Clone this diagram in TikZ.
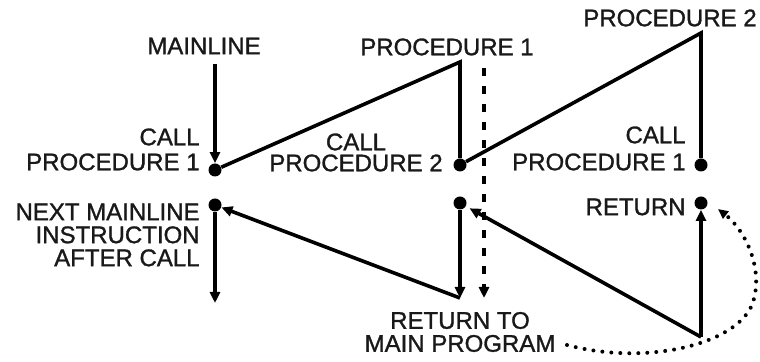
\documentclass[tikz,border=0pt]{standalone}
\usepackage{fontspec}
\setmainfont{Liberation Sans}
\newfontface\lblfont{Liberation Sans}[FakeBold=1.2]
\usetikzlibrary{arrows.meta}
\begin{document}
\begin{tikzpicture}[x=0.5pt,y=-0.5pt,
  lbl/.style={font=\lblfont\fontsize{12}{11.5}\selectfont, inner sep=0pt, text=black!90},
  dotnode/.style={circle, fill=black, inner sep=0pt, minimum size=6.5pt},
  ln/.style={line width=1.8pt},
  arr/.style={ln, -{Triangle[length=5.5pt,width=5pt]}},
  dsh/.style={line width=1.9pt, dash pattern=on 4pt off 5pt, -{Triangle[length=5.5pt,width=5pt]}},
  dts/.style={line width=2pt, line cap=round, dash pattern=on 0pt off 4.5pt, -{Triangle[length=5pt,width=4.5pt]}}
]
\useasboundingbox (0,0) rectangle (760,362);
% dots
\node[dotnode] (d1) at (215,170) {};
\node[dotnode] (d2) at (460,165) {};
\node[dotnode] (d3) at (701,165) {};
\node[dotnode] (d4) at (215,205) {};
\node[dotnode] (d5) at (460,203) {};
\node[dotnode] (d6) at (701,203) {};
% corner points
\coordinate (t0) at (215,64);
\coordinate (t1) at (460,62);
\coordinate (t2) at (701,33);
\coordinate (b0) at (215,303);
\coordinate (b1) at (460,298);
\coordinate (b2) at (701,337);
\coordinate (q0) at (484,68);
\coordinate (q1) at (484,298);
\coordinate (c0) at (567,345);
\coordinate (c1) at (718,209);
% upper half
\draw[arr] (t0) -- (d1);
\draw[ln] (d1) -- (t1) -- (d2);
\draw[ln] (d2) -- (t2) -- (d3);
% lower half
\draw[arr] (d4) -- (b0);
\draw[arr] (d5) -- (b1);
\draw[arr] (b1) -- (d4);
\draw[arr, shorten >=2pt] (b2) -- (d5);
\draw[arr] (b2) -- (d6);
% dashed divider arrow
\draw[dsh] (q0) -- (q1);
% dotted return arrow
\draw[dts] (c0) .. controls (645,366) and (735,345) .. (752,305) .. controls (765,270) and (745,230) .. (c1);
% labels
\node[lbl] (mainline) at (204,46) {MAINLINE};
\node[lbl] (p1top) at (447,47) {PROCEDURE 1};
\node[lbl] (p2top) at (670,18) {PROCEDURE 2};
\node[lbl, align=right, anchor=east] (callp1) at (200,149.5) {CALL\\[1pt]PROCEDURE 1};
\node[lbl, align=center] (callp2) at (356,152.5) {CALL\\[-1pt]PROCEDURE 2};
\node[lbl, align=right, anchor=east] (callp1b) at (686,148.5) {CALL\\[2pt]PROCEDURE 1};
\node[lbl, align=right, anchor=east] (next) at (200,235) {NEXT MAINLINE\\INSTRUCTION\\AFTER CALL};
\node[lbl, anchor=east] (ret) at (686,207) {RETURN};
\node[lbl, align=center] (rtm) at (460,332) {RETURN TO\\MAIN PROGRAM};
\end{tikzpicture}
\end{document}
